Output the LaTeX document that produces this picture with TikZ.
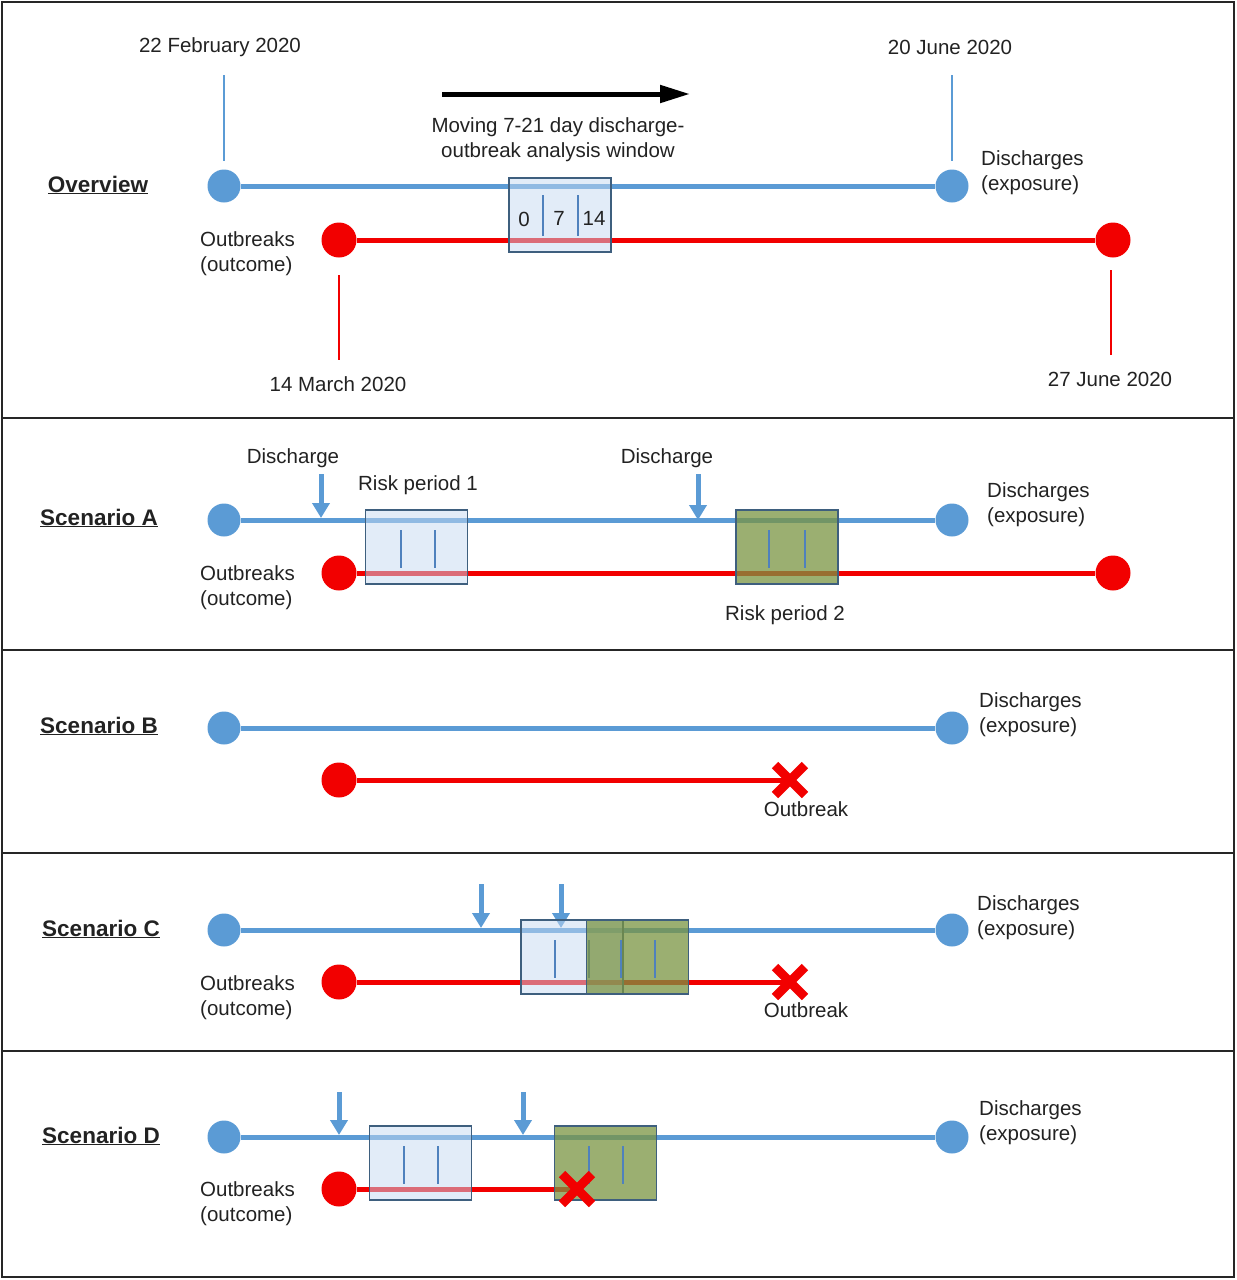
\documentclass[tikz,border=0pt]{standalone}
\usepackage{fontspec}
\setmainfont{Liberation Sans}
\usetikzlibrary{arrows.meta,shapes.misc}
\definecolor{bluec}{HTML}{5B9BD5}
\definecolor{redc}{HTML}{F20000}
\definecolor{boxedge}{HTML}{3E5F7E}
\definecolor{lightbl}{HTML}{C6D9F1}
\definecolor{greenc}{HTML}{7A9442}
\definecolor{divc}{HTML}{4F81BD}
\definecolor{txt}{HTML}{222222}
\begin{document}
\begin{tikzpicture}[x=1pt,y=-1pt,
  every node/.style={font=\fontsize{20.5}{25}\selectfont, text=txt, inner sep=0pt},
  head/.style={font=\fontsize{22.5}{26}\selectfont\bfseries, text=txt},
  bline/.style={line width=5pt, bluec},
  rline/.style={line width=5pt, redc},
  bdot/.style={circle, fill=bluec, minimum size=33pt, draw=none},
  rdot/.style={circle, fill=redc, minimum size=35pt, draw=none},
  bluebox/.style={rectangle, draw=boxedge, line width=1.5pt, fill=lightbl, fill opacity=0.5, minimum width=102pt, minimum height=74pt},
  greenbox/.style={rectangle, draw=boxedge, line width=1.5pt, fill=greenc, fill opacity=0.75, minimum width=102pt, minimum height=74pt},
  divl/.style={line width=1.5pt, divc},
  tickb/.style={line width=1.3pt, bluec},
  tickr/.style={line width=1.3pt, redc},
  darr/.style={line width=5pt, bluec, -{Triangle[width=17pt,length=15pt]}},
  xm/.style={cross out, draw=redc, line width=9pt, minimum size=21pt},
  lab/.style={align=left, anchor=west},
  panel/.style={line width=1.8pt, draw=black!85}
]
\useasboundingbox (0,0) rectangle (1237,1280);
% frame and dividers
\draw[panel] (2,2) rectangle (1234,1277);
\coordinate (d1l) at (2,418); \coordinate (d1r) at (1234,418);
\coordinate (d2l) at (2,650); \coordinate (d2r) at (1234,650);
\coordinate (d3l) at (2,853); \coordinate (d3r) at (1234,853);
\coordinate (d4l) at (2,1051); \coordinate (d4r) at (1234,1051);
\draw[panel] (d1l) -- (d1r); \draw[panel] (d2l) -- (d2r);
\draw[panel] (d3l) -- (d3r); \draw[panel] (d4l) -- (d4r);

% ================= Overview =================
\node[head] (ovt) at (98,185) {\underline{Overview}};
\node (dt1) at (220,47) {22 February 2020};
\node (dt2) at (950,47) {20 June 2020};
\node (dt3) at (338,384) {14 March 2020};
\node (dt4) at (1110,379) {27 June 2020};
\coordinate (t1a) at (224,75); \coordinate (t1b) at (224,161);
\coordinate (t2a) at (952,75); \coordinate (t2b) at (952,161);
\coordinate (t3a) at (339,275); \coordinate (t3b) at (339,360);
\coordinate (t4a) at (1111,270); \coordinate (t4b) at (1111,355);
\draw[tickb] (t1a) -- (t1b); \draw[tickb] (t2a) -- (t2b);
\draw[tickr] (t3a) -- (t3b); \draw[tickr] (t4a) -- (t4b);
\node[bdot] (ob1) at (224,186) {};
\node[bdot] (ob2) at (952,186) {};
\node[rdot] (or1) at (339,240) {};
\node[rdot] (or2) at (1113,240) {};
\draw[bline] (ob1) -- (ob2);
\draw[rline] (or1) -- (or2);
\node[bluebox] (ow) at (560,215) {};
\draw[divl] (543,195) -- (543,236);
\draw[divl] (578,195) -- (578,236);
\node (w0) at (524,219) {0};
\node (w7) at (559,218) {7};
\node (w14) at (594,218) {14};
\coordinate (ara) at (442,94); \coordinate (arb) at (690,94);
\draw[line width=5pt, black, -{Triangle[width=17pt,length=30pt]}] (ara) -- (arb);
\node[align=center] (mv) at (558,140) {Moving 7-21 day discharge-\\outbreak analysis window};
\node[lab] (oexp) at (981,173) {Discharges\\(exposure)};
\node[lab] (oout) at (200,254) {Outbreaks\\(outcome)};

% ================= Scenario A =================
\node[head] (sa) at (99,518) {\underline{Scenario A}};
\node[bdot] (ab1) at (224,520) {};
\node[bdot] (ab2) at (952,520) {};
\node[rdot] (ar1) at (339,573) {};
\node[rdot] (ar2) at (1113,573) {};
\draw[bline] (ab1) -- (ab2);
\draw[rline] (ar1) -- (ar2);
\node (adis1) at (293,458) {Discharge};
\node (adis2) at (667,458) {Discharge};
\coordinate (aa1) at (321,474); \coordinate (aa1e) at (321,518);
\coordinate (aa2) at (698,474); \coordinate (aa2e) at (698,520);
\draw[darr] (aa1) -- (aa1e);
\draw[darr] (aa2) -- (aa2e);
\node (arp1) at (418,485) {Risk period 1};
\node[bluebox] (abx1) at (416.5,547) {};
\node[greenbox] (abx2) at (787,547) {};
\draw[divl] (401,530) -- (401,568); \draw[divl] (435,530) -- (435,568);
\draw[divl] (769,530) -- (769,568); \draw[divl] (805,530) -- (805,568);
\node (arp2) at (785,615) {Risk period 2};
\node[lab] (aexp) at (987,505) {Discharges\\(exposure)};
\node[lab] (aout) at (200,588) {Outbreaks\\(outcome)};

% ================= Scenario B =================
\node[head] (sb) at (99,726) {\underline{Scenario B}};
\node[bdot] (bb1) at (224,728) {};
\node[bdot] (bb2) at (952,728) {};
\node[rdot] (br1) at (339,780) {};
\coordinate (bxc) at (790,780);
\draw[bline] (bb1) -- (bb2);
\draw[rline] (br1) -- (bxc);
\node[xm] (bx) at (bxc) {};
\node (bob) at (806,809) {Outbreak};
\node[lab] (bexp) at (979,715) {Discharges\\(exposure)};

% ================= Scenario C =================
\node[head] (sc) at (101,929) {\underline{Scenario C}};
\node[bdot] (cb1) at (224,930) {};
\node[bdot] (cb2) at (952,930) {};
\node[rdot] (cr1) at (339,982) {};
\coordinate (cxc) at (790,982);
\draw[bline] (cb1) -- (cb2);
\draw[rline] (cr1) -- (cxc);
\coordinate (ca1) at (481,884); \coordinate (ca1e) at (481,928);
\coordinate (ca2) at (561,884); \coordinate (ca2e) at (561,928);
\draw[darr] (ca1) -- (ca1e);
\draw[darr] (ca2) -- (ca2e);
\node[bluebox] (cbx1) at (572,957) {};
\draw[divl] (555,940) -- (555,978); \draw[divl] (589,940) -- (589,978);
\node[greenbox] (cbx2) at (637.5,957) {};
\draw[divl] (621,940) -- (621,978); \draw[divl] (655,940) -- (655,978);
\node[xm] (cx) at (cxc) {};
\node (cob) at (806,1010) {Outbreak};
\node[lab] (cexp) at (977,918) {Discharges\\(exposure)};
\node[lab] (cout) at (200,998) {Outbreaks\\(outcome)};

% ================= Scenario D =================
\node[head] (sd) at (101,1136) {\underline{Scenario D}};
\node[bdot] (db1) at (224,1137) {};
\node[bdot] (db2) at (952,1137) {};
\node[rdot] (dr1) at (339,1189) {};
\coordinate (dxc) at (577,1189);
\draw[bline] (db1) -- (db2);
\draw[rline] (dr1) -- (dxc);
\coordinate (da1) at (339,1092); \coordinate (da1e) at (339,1135);
\coordinate (da2) at (523,1092); \coordinate (da2e) at (523,1135);
\draw[darr] (da1) -- (da1e);
\draw[darr] (da2) -- (da2e);
\node[bluebox] (dbx1) at (420.5,1163) {};
\draw[divl] (404,1146) -- (404,1184); \draw[divl] (438,1146) -- (438,1184);
\node[greenbox] (dbx2) at (605.5,1163) {};
\draw[divl] (589,1146) -- (589,1184); \draw[divl] (623,1146) -- (623,1184);
\node[xm] (dx) at (dxc) {};
\node[lab] (dexp) at (979,1123) {Discharges\\(exposure)};
\node[lab] (dout) at (200,1204) {Outbreaks\\(outcome)};
\end{tikzpicture}
\end{document}
